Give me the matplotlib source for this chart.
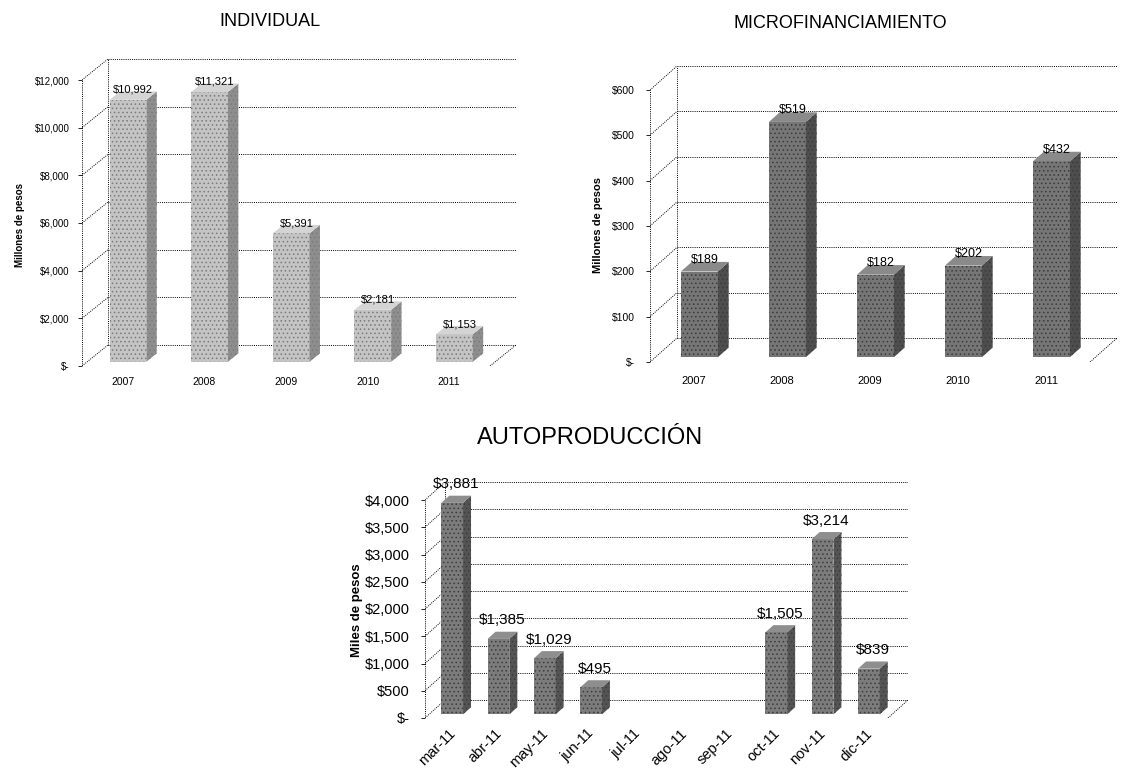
import numpy as np
import matplotlib
matplotlib.use("Agg")
import matplotlib.pyplot as plt
from matplotlib.patches import Polygon

plt.rcParams['font.family'] = ['Liberation Sans Narrow', 'Liberation Sans', 'DejaVu Sans']
plt.rcParams['hatch.linewidth'] = 0.6

# --- datos ---
anios = ["2007", "2008", "2009", "2010", "2011"]
individual = [10992, 11321, 5391, 2181, 1153]
individual_ticks = [0, 2000, 4000, 6000, 8000, 10000, 12000]

micro = [189, 519, 182, 202, 432]
micro_ticks = [0, 100, 200, 300, 400, 500, 600]

meses = ["mar-11", "abr-11", "may-11", "jun-11", "jul-11", "ago-11",
         "sep-11", "oct-11", "nov-11", "dic-11"]
autoprod = [3881, 1385, 1029, 495, np.nan, np.nan, np.nan, 1505, 3214, 839]
autoprod_ticks = [0, 500, 1000, 1500, 2000, 2500, 3000, 3500, 4000]

W, H = 1122, 771


def pesos(v):
    return "$-" if v == 0 else f"${v:,.0f}"


def panel(fig, vals, cats, ticks, box, depth, colors, title, ylabel, fs):
    """box = (x eje frontal, x fin del piso, y del cero, y del tope) en px."""
    xf, xr, y0, yt = box
    dxp, dyp = depth
    n = len(cats)
    cat_px = (xr - xf) / n
    val_px = (y0 - yt) / ticks[-1]
    ddx = dxp / cat_px
    ddy = dyp / val_px
    ax = fig.add_axes([xf / W, 1 - y0 / H, (xr + dxp - xf) / W, (y0 - yt + dyp) / H])
    ax.set_xlim(-0.5, n - 0.5 + ddx)
    ax.set_ylim(0, ticks[-1] + ddy)
    for s in ax.spines.values():
        s.set_visible(False)
    ax.patch.set_alpha(0)

    dot = dict(color="black", lw=0.7, ls=(0, (1, 1.2)), zorder=1)
    xl, xb = -0.5, -0.5 + ddx
    # pared del fondo, pared lateral y piso
    ax.plot([xl, xl], [0, ticks[-1]], **dot)
    ax.plot([xb, xb], [ddy, ticks[-1] + ddy], **dot)
    for t in ticks:
        ax.plot([xl, xb], [t, t + ddy], **dot)
        ax.plot([xb, n - 0.5 + ddx], [t + ddy, t + ddy], **dot)
    ax.plot([xl, n - 0.5], [0, 0], **dot)
    ax.plot([n - 0.5, n - 0.5 + ddx], [0, ddy], **dot)

    # barras con caras frontal, lateral y superior
    w = fs["bw"]
    f0, f1 = 0.2, 0.6
    front, side, top, hatchc = colors
    for i, v in enumerate(vals):
        if np.isnan(v):
            continue
        x0 = i - w / 2 + f0 * ddx
        b0 = f0 * ddy
        ex, ey = (f1 - f0) * ddx, (f1 - f0) * ddy
        ax.bar(x0 + w / 2, v, width=w, bottom=b0, color=front, edgecolor=hatchc,
               lw=0, hatch="....", zorder=3)
        ax.add_patch(Polygon([(x0 + w, b0), (x0 + w + ex, b0 + ey),
                              (x0 + w + ex, b0 + ey + v), (x0 + w, b0 + v)],
                             closed=True, facecolor=side, edgecolor=hatchc, lw=0,
                             hatch="....", zorder=3))
        ax.add_patch(Polygon([(x0, b0 + v), (x0 + w, b0 + v),
                              (x0 + w + ex, b0 + v + ey), (x0 + ex, b0 + v + ey)],
                             closed=True, facecolor=top, edgecolor=hatchc, lw=0,
                             zorder=3))
        ax.text(x0 + w / 2 + ex / 2, b0 + v + ey * fs["lift"], pesos(v), ha="center",
                va="bottom", fontsize=fs["val"], zorder=4)

    ax.set_yticks(ticks)
    ax.set_yticklabels([pesos(t) for t in ticks], fontsize=fs["tick"])
    ax.tick_params(axis="y", length=3, width=0.6, pad=fs["pad"])
    ax.set_xticks(range(n))
    if fs.get("rot"):
        ax.set_xticklabels(cats, fontsize=fs["tick"], rotation=45, ha="right",
                           rotation_mode="anchor")
    else:
        ax.set_xticklabels(cats, fontsize=fs["xtick"])
    ax.tick_params(axis="x", length=0, pad=fs["xpad"])

    fig.text(fs["title_xy"][0] / W, 1 - fs["title_xy"][1] / H, title,
             ha="center", va="center", fontsize=fs["title"])
    fig.text(fs["ylab_xy"][0] / W, 1 - fs["ylab_xy"][1] / H, ylabel, rotation=90,
             ha="center", va="center", fontsize=fs["ylab"], fontweight="bold")
    return ax


fig = plt.figure(figsize=(W / 100, H / 100), dpi=100)

panel(fig, individual, anios, individual_ticks, (82, 490, 366, 80), (26, 21),
      ("#c4c4c4", "#8e8e8e", "#d4d4d4", "#7a7a7a"), "INDIVIDUAL", "Millones de pesos",
      dict(bw=0.45, val=8, tick=7, xtick=7.5, pad=6, xpad=8, title=13, lift=0.6,
           title_xy=(270, 22), ylab_xy=(20, 225), ylab=7))

panel(fig, micro, anios, micro_ticks, (650, 1090, 362, 90), (27, 24),
      ("#767676", "#4e4e4e", "#8a8a8a", "#3a3a3a"), "MICROFINANCIAMIENTO",
      "Millones de pesos",
      dict(bw=0.42, val=9, tick=7.5, xtick=8, pad=8, xpad=10, title=13, lift=0.6,
           title_xy=(840, 23), ylab_xy=(598, 225), ylab=8))

panel(fig, autoprod, meses, autoprod_ticks, (425, 888, 718, 500), (20, 18),
      ("#7c7c7c", "#545454", "#8e8e8e", "#3c3c3c"), "AUTOPRODUCCIÓN", "Miles de pesos",
      dict(bw=0.47, val=11, tick=10.5, xtick=10, pad=8, xpad=6, title=17, rot=True,
           lift=1.6, title_xy=(590, 438), ylab_xy=(357, 610), ylab=9.5))

fig.savefig("out.png", dpi=100, facecolor="white")
